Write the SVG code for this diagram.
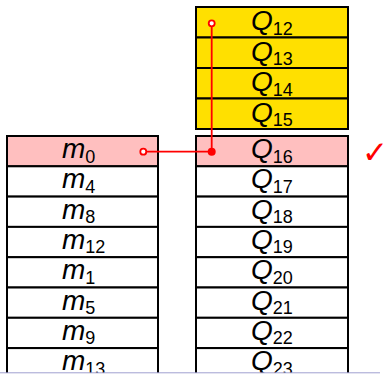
<svg xmlns="http://www.w3.org/2000/svg" width="384" height="374" viewBox="0 0 384 374">
<style>
.cell{stroke:#000;stroke-width:2}
.w{fill:#fff}
.y{fill:#FFE000}
.p{fill:#FFBFBF}
.t{font-family:"Liberation Sans","DejaVu Sans",sans-serif;font-style:italic;font-size:28px;fill:#000}
.s{font-style:normal;font-size:18px}
.red{stroke:#F00;stroke-width:1.8;fill:none}
</style>
<rect width="384" height="374" fill="#fff"/>
<g id="yellow-block">
<g id="Q12"><rect class="cell y" x="196" y="7" width="152" height="30.5"/><text class="t" x="251" y="30">Q<tspan class="s" dy="4.5">12</tspan></text></g>
<g id="Q13"><rect class="cell y" x="196" y="37.5" width="152" height="30.5"/><text class="t" x="251" y="60.5">Q<tspan class="s" dy="4.5">13</tspan></text></g>
<g id="Q14"><rect class="cell y" x="196" y="68" width="152" height="30.5"/><text class="t" x="251" y="91">Q<tspan class="s" dy="4.5">14</tspan></text></g>
<g id="Q15"><rect class="cell y" x="196" y="98.5" width="152" height="30.5"/><text class="t" x="251" y="121.5">Q<tspan class="s" dy="4.5">15</tspan></text></g>
</g>
<g id="left-column">
<g id="m0"><rect class="cell p" x="7" y="136" width="151" height="30.3"/><text class="t" x="62" y="158">m<tspan class="s" dy="4.5">0</tspan></text></g>
<g id="m4"><rect class="cell w" x="7" y="166.3" width="151" height="30.3"/><text class="t" x="62" y="188.3">m<tspan class="s" dy="4.5">4</tspan></text></g>
<g id="m8"><rect class="cell w" x="7" y="196.6" width="151" height="30.3"/><text class="t" x="62" y="218.6">m<tspan class="s" dy="4.5">8</tspan></text></g>
<g id="m12"><rect class="cell w" x="7" y="226.9" width="151" height="30.3"/><text class="t" x="62" y="248.9">m<tspan class="s" dy="4.5">12</tspan></text></g>
<g id="m1"><rect class="cell w" x="7" y="257.2" width="151" height="30.3"/><text class="t" x="62" y="279.2">m<tspan class="s" dy="4.5">1</tspan></text></g>
<g id="m5"><rect class="cell w" x="7" y="287.5" width="151" height="30.3"/><text class="t" x="62" y="309.5">m<tspan class="s" dy="4.5">5</tspan></text></g>
<g id="m9"><rect class="cell w" x="7" y="317.8" width="151" height="30.3"/><text class="t" x="62" y="339.8">m<tspan class="s" dy="4.5">9</tspan></text></g>
<g id="m13"><rect class="cell w" x="7" y="348.1" width="151" height="30.3"/><text class="t" x="62" y="370.1">m<tspan class="s" dy="4.5">13</tspan></text></g>
</g>
<g id="right-column">
<g id="Q16"><rect class="cell p" x="196" y="136" width="152" height="30.3"/><text class="t" x="251" y="158">Q<tspan class="s" dy="4.5">16</tspan></text></g>
<g id="Q17"><rect class="cell w" x="196" y="166.3" width="152" height="30.3"/><text class="t" x="251" y="188.3">Q<tspan class="s" dy="4.5">17</tspan></text></g>
<g id="Q18"><rect class="cell w" x="196" y="196.6" width="152" height="30.3"/><text class="t" x="251" y="218.6">Q<tspan class="s" dy="4.5">18</tspan></text></g>
<g id="Q19"><rect class="cell w" x="196" y="226.9" width="152" height="30.3"/><text class="t" x="251" y="248.9">Q<tspan class="s" dy="4.5">19</tspan></text></g>
<g id="Q20"><rect class="cell w" x="196" y="257.2" width="152" height="30.3"/><text class="t" x="251" y="279.2">Q<tspan class="s" dy="4.5">20</tspan></text></g>
<g id="Q21"><rect class="cell w" x="196" y="287.5" width="152" height="30.3"/><text class="t" x="251" y="309.5">Q<tspan class="s" dy="4.5">21</tspan></text></g>
<g id="Q22"><rect class="cell w" x="196" y="317.8" width="152" height="30.3"/><text class="t" x="251" y="339.8">Q<tspan class="s" dy="4.5">22</tspan></text></g>
<g id="Q23"><rect class="cell w" x="196" y="348.1" width="152" height="30.3"/><text class="t" x="251" y="370.1">Q<tspan class="s" dy="4.5">23</tspan></text></g>
</g>
<g id="connectors">
<path class="red" d="M143.3 151.7 H211.7 V23.3"/>
<circle cx="211.7" cy="151.7" r="4" fill="#F00"/>
<circle cx="143.3" cy="151.7" r="3" fill="#fff" stroke="#F00" stroke-width="1.8"/>
<circle cx="211.7" cy="23.3" r="3" fill="#fff" stroke="#F00" stroke-width="1.8"/>
</g>
<g id="check"><text x="362" y="163" font-family="DejaVu Sans, sans-serif" font-size="31" fill="#F00">✓</text></g>
<rect x="0" y="373" width="384" height="1" fill="#fff"/>
<line x1="0" y1="372.8" x2="380" y2="372.8" stroke="#A0A0D0" stroke-width="1"/>
</svg>
